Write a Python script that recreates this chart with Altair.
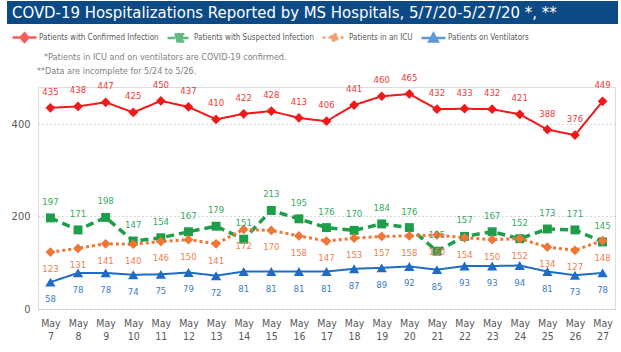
import altair as alt
import pandas as pd

# ---------------- data ----------------
days = list(range(7, 28))
confirmed = [435, 438, 447, 425, 450, 437, 410, 422, 428, 413, 406, 441, 460, 465, 432, 433, 432, 421, 388, 376, 449]
suspected = [197, 171, 198, 147, 154, 167, 179, 151, 213, 195, 176, 170, 184, 176, 125, 157, 167, 152, 173, 171, 145]
icu = [123, 131, 141, 140, 146, 150, 141, 172, 170, 158, 147, 153, 157, 158, 160, 154, 150, 152, 134, 127, 148]
vent = [58, 78, 78, 74, 75, 79, 72, 81, 81, 81, 81, 87, 89, 92, 85, 93, 93, 94, 81, 73, 78]

SERIES = [
    "Patients with Confirmed Infection",
    "Patients with Suspected Infection",
    "Patients in an ICU",
    "Patients on Ventilators",
]
VALUES = [confirmed, suspected, icu, vent]
COLORS = ["#f01818", "#1f9e4a", "#ef7634", "#1f6cc4"]
LABEL_COLORS = ["#f03a3a", "#35aa5e", "#f08050", "#3a7cc8"]
SHAPES = ["diamond", "square", "diamond", "triangle-up"]
SIZES = [95, 80, 95, 105]
DASHES = [[1, 0], [8, 5], [3, 3], [1, 0]]
WIDTHS = [2, 3.5, 3, 2]
LEGEND_PATHS = [
    "M-1,0H1M-0.32,0L0,-0.36L0.32,0L0,0.36Z",
    "M-1,0H1M-0.3,-0.3H0.3V0.3H-0.3Z",
    "M-1,0H1M-0.32,0L0,-0.36L0.32,0L0,0.36Z",
    "M-1,0H1M-0.36,0.3L0,-0.36L0.36,0.3Z",
]
TITLE = "COVD-19 Hospitalizations Reported by MS Hospitals, 5/7/20-5/27/20 *, **"
NOTE1 = "*Patients in ICU and on ventilators are COVID-19 confirmed."
NOTE2 = "**Data are incomplete for 5/24 to 5/26."

rows = []
for s, vals in zip(SERIES, VALUES):
    for d, v in zip(days, vals):
        rows.append({"day": d, "value": v, "series": s})
df = pd.DataFrame(rows)

NARROW = "Liberation Sans Narrow, DejaVu Sans Condensed, Roboto, sans-serif"
GRAY = "#595959"

x_enc = alt.X(
    "day:O",
    title=None,
    scale=alt.Scale(padding=0.45),
    axis=alt.Axis(
        labelExpr="['May', datum.label]",
        labelAngle=0,
        labelColor=GRAY,
        labelFont=NARROW,
        labelFontSize=10.5,
        labelLineHeight=13,
        labelPadding=9,
        ticks=False,
        domain=False,
        grid=False,
    ),
)
y_enc = alt.Y(
    "value:Q",
    title=None,
    scale=alt.Scale(domain=[0, 480], nice=False),
    axis=alt.Axis(
        values=[0, 200, 400],
        labelColor=GRAY,
        labelFont=NARROW,
        labelFontSize=11,
        labelPadding=8,
        ticks=False,
        domain=False,
        grid=True,
        gridDash=[1, 3],
        gridColor="#b0b0b0",
        gridWidth=1,
    ),
)

base = alt.Chart(df)

layers = []
for s, c, dsh, w in zip(SERIES, COLORS, DASHES, WIDTHS):
    layers.append(
        base.transform_filter(alt.datum.series == s)
        .mark_line(color=c, strokeWidth=w, strokeDash=dsh)
        .encode(x=x_enc, y=y_enc)
    )
for s, c, sh, sz in zip(SERIES, COLORS, SHAPES, SIZES):
    layers.append(
        base.transform_filter(alt.datum.series == s)
        .mark_point(filled=True, color=c, shape=sh, size=sz, opacity=1)
        .encode(x=x_enc, y=y_enc)
    )
for s, c, off in zip(SERIES, LABEL_COLORS, [-16, -16, 17, 17]):
    layers.append(
        base.transform_filter(alt.datum.series == s)
        .mark_text(color=c, dy=off, font=NARROW, fontSize=9.5)
        .encode(x=x_enc, y=y_enc, text="value:Q")
    )

legend_layer = (
    base.transform_filter("false")
    .mark_point(filled=True, strokeWidth=2.5)
    .encode(
        x=x_enc,
        y=y_enc,
        color=alt.Color(
            "series:N",
            scale=alt.Scale(domain=SERIES, range=COLORS),
            legend=alt.Legend(
                title=None,
                orient="none",
                direction="horizontal",
                legendX=-27,
                legendY=-63,
                labelFont=NARROW,
                labelFontSize=8,
                labelColor=GRAY,
                symbolSize=576,
                symbolStrokeWidth=2.5,
                columnPadding=3,
                labelOffset=1,
            ),
        ),
        stroke=alt.Stroke("series:N", scale=alt.Scale(domain=SERIES, range=COLORS), legend=alt.Legend(title=None)),
        shape=alt.Shape("series:N", scale=alt.Scale(domain=SERIES, range=LEGEND_PATHS), legend=alt.Legend(title=None)),
        strokeDash=alt.StrokeDash("series:N", scale=alt.Scale(domain=SERIES, range=DASHES), legend=alt.Legend(title=None)),
    )
)
layers.append(legend_layer)

one = alt.Data(values=[{}])
title_bar = alt.Chart(one).mark_rect(color="#0c4a86").encode(
    x=alt.value(-31), x2=alt.value(580), y=alt.value(-86), y2=alt.value(-63)
)
title_text = alt.Chart(one).mark_text(
    align="left", baseline="middle", color="white", font=NARROW, fontSize=16.6
).encode(x=alt.value(-26), y=alt.value(-74), text=alt.value(TITLE))
note1 = alt.Chart(one).mark_text(
    align="left", baseline="middle", color="#7f7f7f", font=NARROW, fontSize=9
).encode(x=alt.value(6), y=alt.value(-30), text=alt.value(NOTE1))
note2 = alt.Chart(one).mark_text(
    align="left", baseline="middle", color="#7f7f7f", font=NARROW, fontSize=9
).encode(x=alt.value(-1), y=alt.value(-16), text=alt.value(NOTE2))

chart = (
    alt.layer(*layers, title_bar, title_text, note1, note2)
    .properties(
        width=577,
        height=222,
        padding={"left": 38, "top": 87, "right": 6, "bottom": 43},
        autosize=alt.AutoSizeParams(type="none"),
    )
    .configure_view(stroke=None)
    .configure(background="white")
)

chart.save("out.html", embed_options={"renderer": "svg", "actions": False})
